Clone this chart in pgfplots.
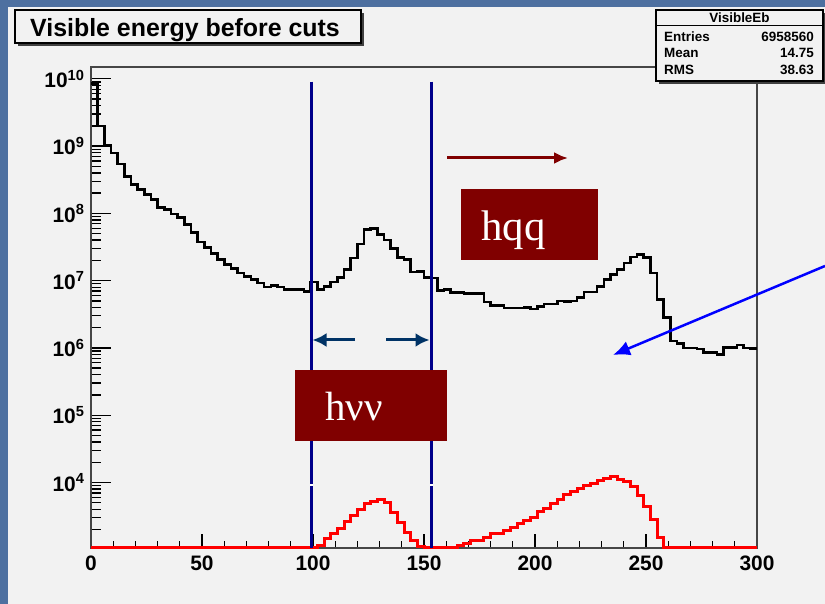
\documentclass[border=0pt]{standalone}
\usepackage{pgfplots}
\usepackage{pgfplotstable}
\pgfplotsset{compat=1.18}
\usetikzlibrary{arrows.meta}
\usepackage{fontspec}
\setmainfont{Liberation Sans}
\newfontfamily\seriffont{Liberation Serif}
\definecolor{panel}{RGB}{242,242,242}
\definecolor{slide}{RGB}{78,112,160}
\definecolor{cutblue}{RGB}{0,0,139}
\definecolor{arrblue}{RGB}{0,51,102}
\definecolor{boxred}{RGB}{128,0,0}
\definecolor{framegray}{RGB}{70,70,70}

\pgfplotstableread{
x y
0 8.5e9
3 2.0e9
6 1.03e9
9 7.9e8
12 5.4e8
15 3.55e8
18 2.7e8
21 2.25e8
24 1.9e8
27 1.6e8
30 1.23e8
33 1.13e8
36 9.8e7
39 8.7e7
42 6.9e7
45 5.2e7
48 3.77e7
51 3.1e7
54 2.55e7
57 2.07e7
60 1.74e7
63 1.52e7
66 1.30e7
69 1.16e7
72 1.04e7
75 9.2e6
78 8.05e6
81 8.5e6
84 8.05e6
87 7.4e6
90 7.4e6
93 7.4e6
96 6.9e6
99 9.5e6
102 7.4e6
105 8.1e6
108 9.5e6
111 1.11e7
114 1.47e7
117 2.17e7
120 3.5e7
123 5.75e7
126 6.0e7
129 4.9e7
132 4.0e7
135 3.0e7
138 2.19e7
141 2.07e7
144 1.34e7
147 1.38e7
150 1.12e7
153 1.09e7
156 7.2e6
159 7.4e6
162 6.7e6
165 6.7e6
168 6.4e6
171 6.4e6
174 6.4e6
177 4.8e6
180 4.27e6
183 4.27e6
186 3.9e6
189 3.9e6
192 3.9e6
195 4.0e6
198 3.8e6
201 4.1e6
204 4.5e6
207 4.5e6
210 5.0e6
213 4.9e6
216 5.0e6
219 5.6e6
222 6.8e6
225 6.8e6
228 8.2e6
231 1.04e7
234 1.24e7
237 1.47e7
240 1.84e7
243 2.24e7
246 2.45e7
249 2.19e7
252 1.30e7
255 5.2e6
258 2.82e6
261 1.26e6
264 1.16e6
267 1.0e6
270 1.0e6
273 9.6e5
276 8.5e5
279 8.5e5
282 7.9e5
285 1.01e6
288 1.01e6
291 1.1e6
294 1.0e6
297 9.8e5
300 9.8e5
}\blacktab

\pgfplotstableread{
x y
0 1060
102 1150
105 1450
108 1750
111 2050
114 2600
117 3200
120 4000
123 4800
126 5250
129 5500
132 5070
135 3600
138 2500
141 1820
144 1360
147 1110
150 1060
165 1150
168 1250
171 1390
174 1390
177 1500
180 1750
183 1750
186 1960
189 2150
192 2460
195 2760
198 3020
201 3670
204 4130
207 4790
210 5620
213 6520
216 7300
219 8190
222 8950
225 9720
228 10640
231 11500
234 12200
237 11200
240 10300
243 8650
246 6330
249 4370
252 2820
255 1500
258 1060
300 1060
}\redtab

\begin{document}
\begin{tikzpicture}
\begin{scope}[x=1bp,y=1bp]
\fill[slide] (0,0) rectangle (825,604);
\fill[panel] (8,0) rectangle (825,597);
\end{scope}

% y ticks / labels axis
\begin{axis}[at={(91bp,56bp)}, anchor=south west, scale only axis,
  width=666bp, height=481bp,
  xmin=0, xmax=300, ymode=log, ymin=1060, ymax=1.5e10,
  hide x axis, y axis line style={draw=none},
  ytick pos=left, tick align=inside,
  major tick length=20bp, minor tick length=10bp,
  tick style={black, line width=1.3bp},
  ytick={1e4,1e5,1e6,1e7,1e8,1e9,1e10},
  yticklabels={\textbf{10}\textsuperscript{\textbf{4}},\textbf{10}\textsuperscript{\textbf{5}},\textbf{10}\textsuperscript{\textbf{6}},\textbf{10}\textsuperscript{\textbf{7}},\textbf{10}\textsuperscript{\textbf{8}},\textbf{10}\textsuperscript{\textbf{9}},\textbf{10}\textsuperscript{\textbf{10}}},
  minor ytick={2e3,3e3,4e3,5e3,6e3,7e3,8e3,9e3,
    2e4,3e4,4e4,5e4,6e4,7e4,8e4,9e4,
    2e5,3e5,4e5,5e5,6e5,7e5,8e5,9e5,
    2e6,3e6,4e6,5e6,6e6,7e6,8e6,9e6,
    2e7,3e7,4e7,5e7,6e7,7e7,8e7,9e7,
    2e8,3e8,4e8,5e8,6e8,7e8,8e8,9e8,
    2e9,3e9,4e9,5e9,6e9,7e9,8e9,9e9},
  yticklabel style={font=\fontsize{21}{21}\selectfont\bfseries, xshift=-3bp},
]
\end{axis}

% main axis
\begin{axis}[at={(91bp,56bp)}, anchor=south west, scale only axis,
  width=666bp, height=481bp,
  xmin=0, xmax=300, ymode=log, ymin=1060, ymax=1.5e10,
  clip=false,
  axis line style={framegray, line width=1.5bp},
  ytick=\empty, xtick pos=bottom, tick align=inside,
  major tick length=14bp, minor tick length=7bp,
  tick style={black, line width=1.3bp},
  xtick={0,50,100,150,200,250,300},
  xticklabels={0,50,100,150,200,250,300},
  minor x tick num=4,
  xticklabel style={font=\fontsize{21}{21}\selectfont\bfseries, yshift=-4bp},
]
\addplot[const plot, red, line width=3bp] table[x=x,y=y] {\redtab};
\addplot[const plot, black, line width=2.6bp] table[x=x,y=y] {\blacktab};
\end{axis}

\begin{scope}[x=1bp,y=1bp]
% cut lines
\draw[cutblue, line width=3bp] (311,522.3) -- (311,56);
\draw[cutblue, line width=3bp] (431,522.3) -- (431,56);
\draw[white, line width=3bp] (311,117.5) -- (311,119.5);
\draw[white, line width=3bp] (431,117.5) -- (431,119.5);

% small arrows
\draw[arrblue, line width=3bp, -{Latex[length=14bp,width=14bp]}] (355,264) -- (312.5,264);
\draw[arrblue, line width=3bp, -{Latex[length=14bp,width=14bp]}] (386,264) -- (429.5,264);

% dark red arrow
\draw[boxred, line width=3bp, -{Latex[length=14bp,width=12bp]}] (447,446) -- (568,446);

% hqq box
\fill[boxred] (461,344) rectangle (598,415);
\node[anchor=base west, white, inner sep=0] at (481,364) {\seriffont\fontsize{43}{43}\selectfont hqq};

% hvv box
\fill[boxred] (295,163.3) rectangle (447,234);
\node[anchor=base west, white, inner sep=0] at (325,184) {\seriffont\fontsize{41}{41}\selectfont hνν};

% blue arrow
\draw[blue, line width=2.5bp, -{Latex[length=17bp,width=15bp]}] (825,338) -- (613,249);

% title box
\fill[black!75] (18,558) rectangle (364,591);
\filldraw[fill=panel, draw=black, line width=1.2bp] (15,561) rectangle (361,594);
\node[anchor=base, inner sep=0] at (185,567.3) {\fontsize{25}{25}\selectfont\bfseries Visible energy before cuts};

% stats box
\fill[black!75] (659,520) rectangle (826,591);
\filldraw[fill=panel, draw=black, line width=1.2bp] (656,523) rectangle (823,594);
\draw[black, line width=1bp] (656,578) -- (823,578);
\begin{scope}[every node/.style={inner sep=0}]
\node[anchor=base] at (739.5,581.3) {\fontsize{13.5}{14}\selectfont\bfseries VisibleEb};
\node[anchor=base west] at (664,562.3) {\fontsize{13.5}{14}\selectfont\bfseries Entries};
\node[anchor=base east] at (814,562.3) {\fontsize{13.5}{14}\selectfont\bfseries 6958560};
\node[anchor=base west] at (664,546.3) {\fontsize{13.5}{14}\selectfont\bfseries Mean};
\node[anchor=base east] at (814,546.3) {\fontsize{13.5}{14}\selectfont\bfseries 14.75};
\node[anchor=base west] at (664,529) {\fontsize{13.5}{14}\selectfont\bfseries RMS};
\node[anchor=base east] at (814,529) {\fontsize{13.5}{14}\selectfont\bfseries 38.63};
\end{scope}
\end{scope}

\pgfresetboundingbox
\path[use as bounding box] (0,0) rectangle (825bp,604bp);
\end{tikzpicture}
\end{document}
